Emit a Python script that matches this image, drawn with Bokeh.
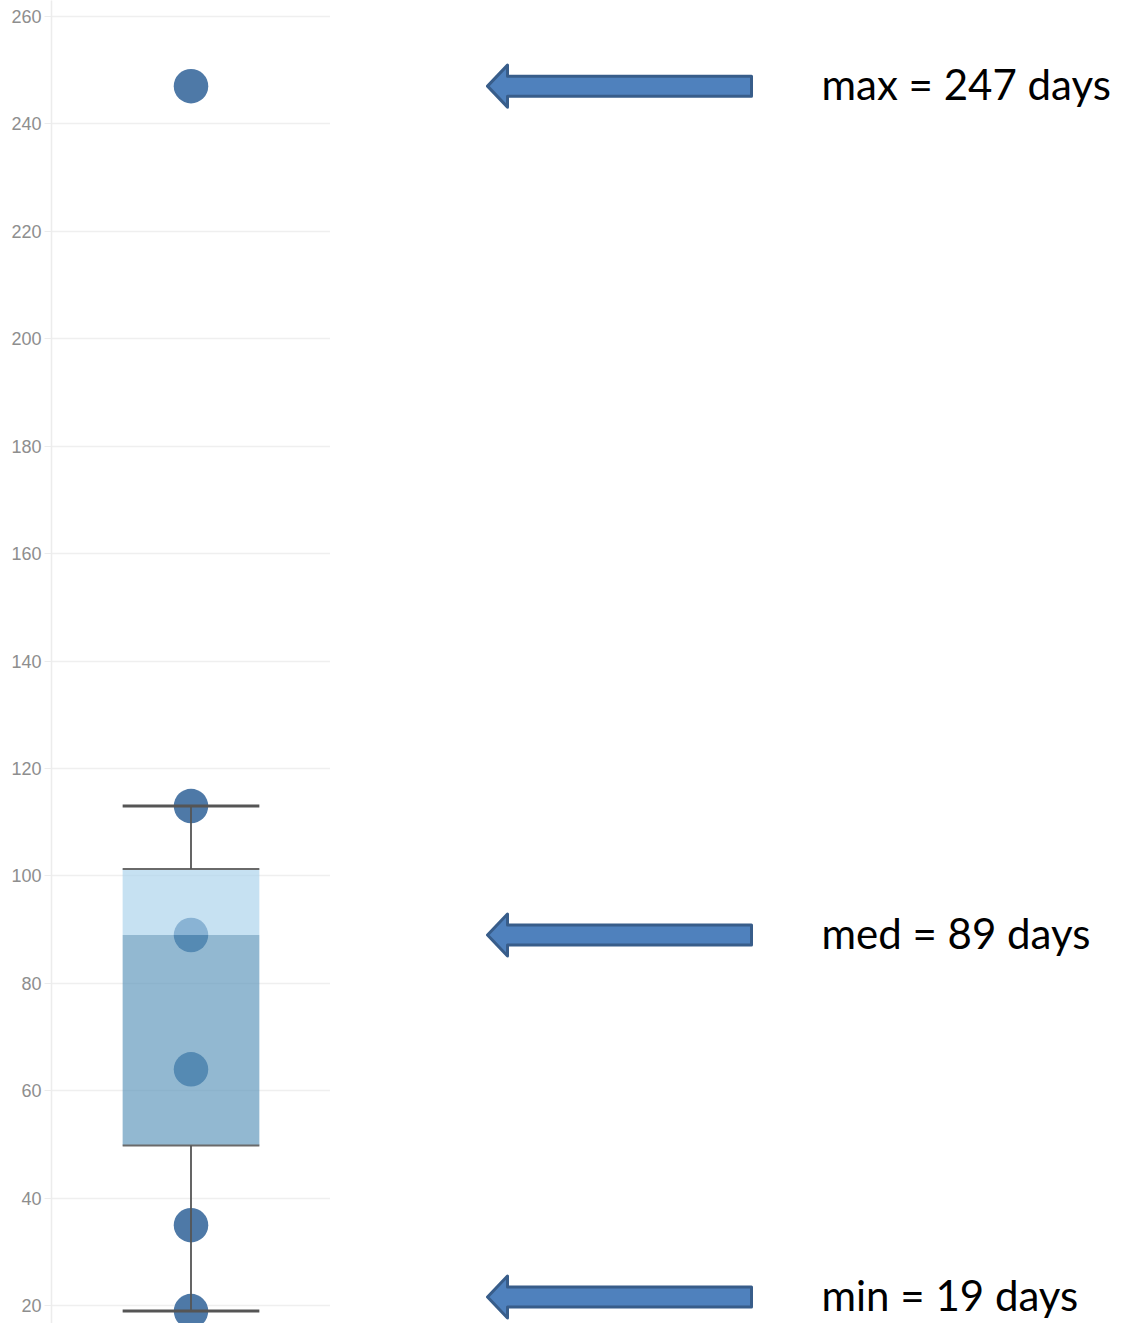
from bokeh.plotting import figure
from bokeh.layouts import row
from bokeh.models import Range1d, FixedTicker
from bokeh.core.properties import value
from bokeh.embed import file_html
from bokeh.resources import INLINE

# ---- data ----
categories = ["Days"]
point_values = [247, 113, 89, 64, 35, 19]
q1 = [49.8]
median = [89]
q3 = [101.3]
whisker_low = [19]
whisker_high = [113]
y_ticks = [20, 40, 60, 80, 100, 120, 140, 160, 180, 200, 220, 240, 260]
annot_labels = ["max = 247 days", "med = 89 days", "min = 19 days"]
annot_values = [247, 89, 19]

# ---- layout constants ----
H = 1323
Y0, Y1 = 16.69, 262.94
px_per_unit = H / (Y1 - Y0)
yr = Range1d(Y0, Y1)
cx = 0.5
half_w = 0.245
W1 = 330

p = figure(width=W1, height=H, x_range=Range1d(0, 1), y_range=yr,
           output_backend="svg", toolbar_location=None,
           min_border_left=51, min_border_right=0, min_border_top=0, min_border_bottom=0)
p.outline_line_color = None
p.xaxis.visible = False
p.xgrid.visible = False
p.ygrid.grid_line_color = "#efefef"
p.ygrid.grid_line_width = 1.5
p.yaxis.ticker = FixedTicker(ticks=y_ticks)
p.yaxis.minor_tick_line_color = None
p.yaxis.major_tick_out = 7
p.yaxis.major_tick_in = 0
p.yaxis.major_tick_line_color = "#ececec"
p.yaxis.axis_line_color = "#ececec"
p.yaxis.axis_line_width = 1.5
p.yaxis.major_label_standoff = 3
p.yaxis.major_label_text_color = "#8e8e8e"
p.yaxis.major_label_text_font = "Liberation Sans"
p.yaxis.major_label_text_font_size = "18px"

# points (drawn under the translucent box)
p.scatter(x=[cx] * len(point_values), y=point_values, size=34.5,
          fill_color="#4e79a7", line_color=None)

# box halves
p.vbar(x=[cx], width=2 * half_w, bottom=median, top=q3,
       fill_color="#a8d1eb", fill_alpha=0.655, line_color=None)
p.vbar(x=[cx], width=2 * half_w, bottom=q1, top=median,
       fill_color="#5993b9", fill_alpha=0.655, line_color=None)
# box edges
p.segment(x0=[cx - half_w] * 2, x1=[cx + half_w] * 2, y0=q1 + q3, y1=q1 + q3,
          line_color="#6a6a6a", line_width=2)
# whiskers
p.segment(x0=[cx, cx], x1=[cx, cx], y0=[q3[0], q1[0]], y1=[whisker_high[0], whisker_low[0]],
          line_color="#555555", line_width=1.8)
p.segment(x0=[cx - half_w] * 2, x1=[cx + half_w] * 2,
          y0=whisker_high + whisker_low, y1=whisker_high + whisker_low,
          line_color="#555555", line_width=3)

# ---- annotation panel ----
W2 = 1121 - W1
q = figure(width=W2, height=H, x_range=Range1d(0, W2), y_range=yr,
           output_backend="svg", toolbar_location=None,
           min_border_left=0, min_border_right=0, min_border_top=0, min_border_bottom=0)
q.outline_line_color = None
q.axis.visible = False
q.grid.visible = False

head_h = 21 / px_per_unit
shaft_h = 10 / px_per_unit
tip_x, head_x, end_x = 157, 177, 421
margin = (22.5 + 4) / px_per_unit

xs, ys, label_y = [], [], []
for v in annot_values:
    yc = min(max(v, Y0 + margin), Y1 - margin)
    label_y.append(yc)
    xs.append([tip_x, head_x, head_x, end_x, end_x, head_x, head_x])
    ys.append([yc, yc + head_h, yc + shaft_h, yc + shaft_h, yc - shaft_h, yc - shaft_h, yc - head_h])

q.patches(xs=xs, ys=ys, fill_color="#4f81bd", line_color="#385d8a",
          line_width=3, line_join="round")
q.text(x=[491] * len(annot_labels), y=[yv + 0.4 for yv in label_y], text=annot_labels,
       text_font=value("Lato"), text_font_size="42px", text_color="#000000",
       text_baseline="middle", text_align="left")

layout = row(p, q)
open("out.html", "w").write(file_html(layout, INLINE))
